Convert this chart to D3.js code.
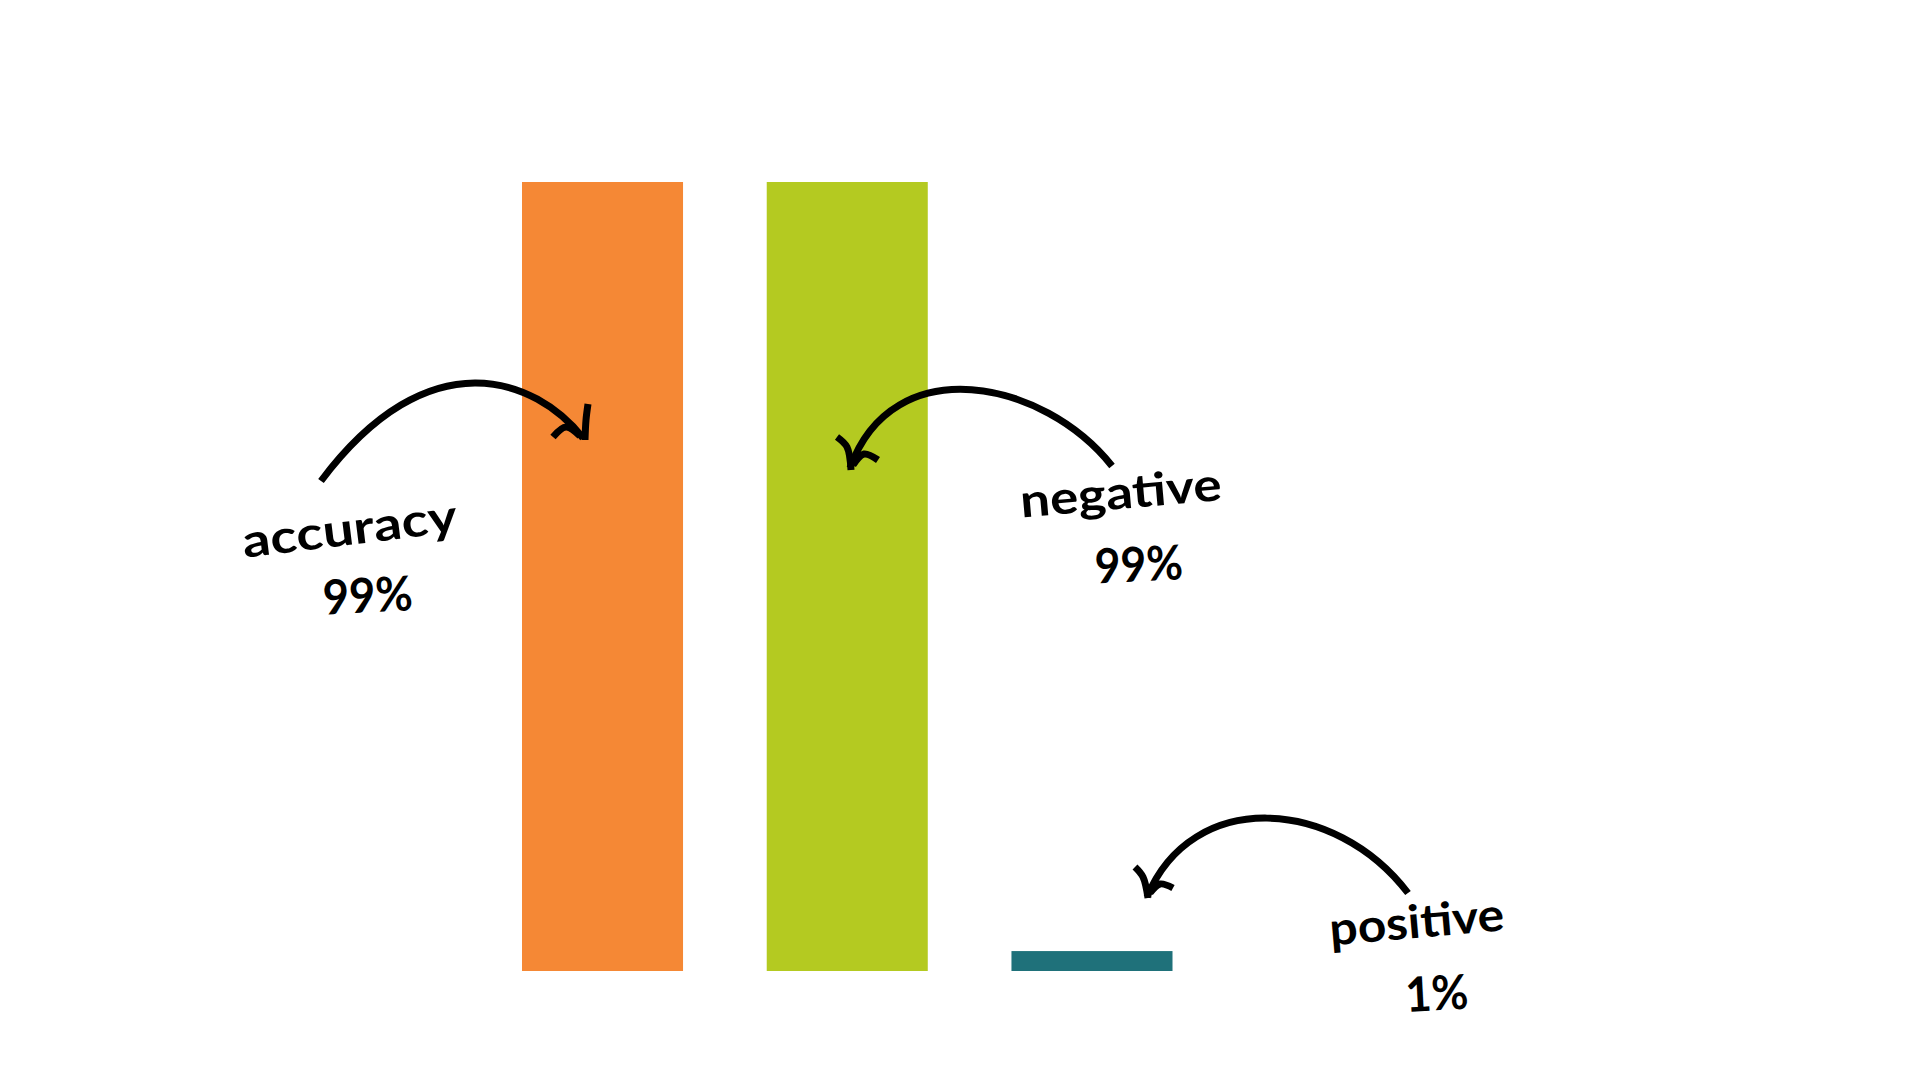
<!DOCTYPE html>
<html>
<head>
<meta charset="utf-8">
<script src="https://cdn.jsdelivr.net/npm/d3@7"></script>
<style>
  html, body { margin: 0; padding: 0; background: #ffffff; }
  svg { display: block; }
</style>
</head>
<body>
<svg id="chart" width="1920" height="1080"></svg>
<script>
// ---- data ----
const categories = ["accuracy", "negative", "positive"];
const values = [99, 99, 2.5];            // bar heights
const pctLabels = ["99%", "99%", "1%"];   // annotation texts
const colors = ["#F58835", "#B4CA21", "#1F717A"];

// ---- layout ----
const W = 1920, H = 1080;
const svg = d3.select("#chart");

const x = d3.scaleBand()
  .domain(categories)
  .range([522, 1172.5])
  .paddingInner(0.342)
  .paddingOuter(0);

const y = d3.scaleLinear()
  .domain([0, 99])
  .range([971, 182]);

svg.append("rect").attr("width", W).attr("height", H).attr("fill", "#fff");

svg.append("g").selectAll("rect")
  .data(categories)
  .join("rect")
  .attr("x", d => x(d))
  .attr("width", x.bandwidth())
  .attr("y", (d, i) => y(values[i]))
  .attr("height", (d, i) => y(0) - y(values[i]))
  .attr("fill", (d, i) => colors[i]);

// ---- hand-drawn style annotation arrows (cubic curves) ----
const arrows = [
  {
    bez: [[321,481],[429,337],[536,378],[583,438]],
    barbs: [
      [[588,404],[586,420],[585,440]],
      [[553,437],[566,427],[580,436]]
    ]
  },
  {
    bez: [[1112,466],[1044,380],[893,348],[850,468]],
    barbs: [
      [[837,437],[847,447],[851,470]],
      [[853,465],[864,454],[878,460]]
    ]
  },
  {
    bez: [[1408,893],[1335,797],[1192,788],[1147,897]],
    barbs: [
      [[1135,867],[1143,877],[1148,898]],
      [[1150,893],[1160,884],[1173,888]]
    ]
  }
];

const line = d3.line().curve(d3.curveCatmullRom.alpha(0.5));
const ag = svg.append("g")
  .attr("fill", "none")
  .attr("stroke", "#000")
  .attr("stroke-width", 7)
  .attr("stroke-linecap", "butt")
  .attr("stroke-linejoin", "round");

arrows.forEach(a => {
  const p = d3.path();
  const [s, c1, c2, e] = a.bez;
  p.moveTo(s[0], s[1]);
  p.bezierCurveTo(c1[0], c1[1], c2[0], c2[1], e[0], e[1]);
  ag.append("path").attr("d", p.toString());
  a.barbs.forEach(b => ag.append("path").attr("d", line(b)));
});

// ---- annotation texts ----
const labelLayout = [
  { name: [350, 533, -7, 216], pct: [368, 600, -3, 90] },
  { name: [1121, 497, -5, 202], pct: [1139, 569, -3, 88] },
  { name: [1417, 926, -5, 175], pct: [1437, 998, -3, 63] }
];

const tg = svg.append("g")
  .attr("font-family", "Lato, 'Open Sans', sans-serif")
  .attr("font-weight", 700)
  .attr("fill", "#000")
  .attr("text-anchor", "middle")
  .attr("dominant-baseline", "middle");

categories.forEach((c, i) => {
  const L = labelLayout[i];
  tg.append("text")
    .attr("transform", `translate(${L.name[0]},${L.name[1]}) rotate(${L.name[2]})`)
    .attr("font-size", 46)
    .attr("textLength", L.name[3])
    .attr("lengthAdjust", "spacingAndGlyphs")
    .text(c);
  tg.append("text")
    .attr("transform", `translate(${L.pct[0]},${L.pct[1]}) rotate(${L.pct[2]})`)
    .attr("font-size", 48)
    .attr("textLength", L.pct[3])
    .attr("lengthAdjust", "spacingAndGlyphs")
    .text(pctLabels[i]);
});
</script>
</body>
</html>
